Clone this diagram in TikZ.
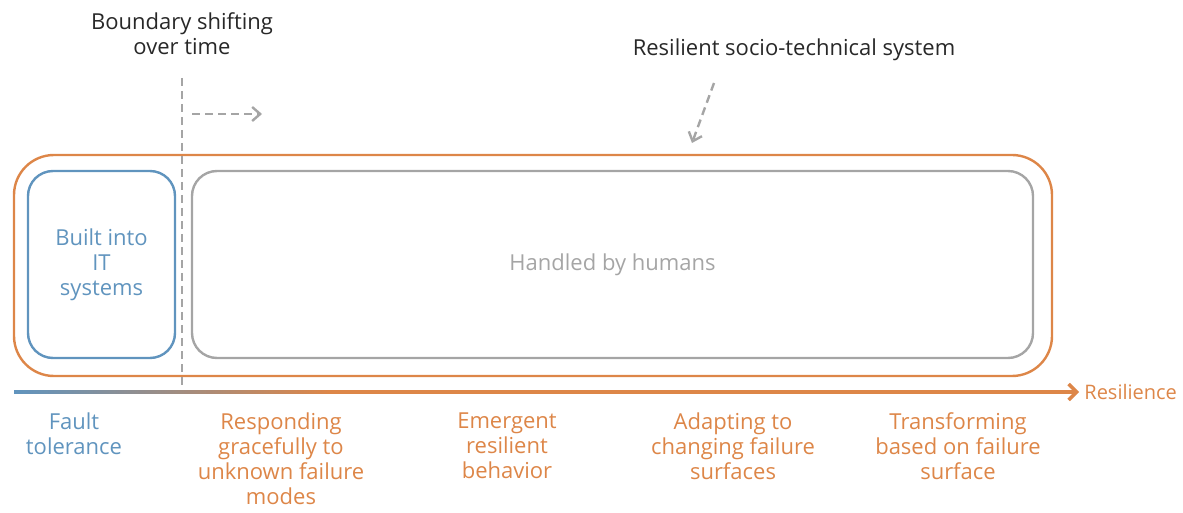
\documentclass[tikz,border=0pt]{standalone}
\usepackage{fontspec}
\setmainfont{Open Sans}
\usepackage{xcolor}
\usetikzlibrary{arrows.meta, positioning}
\definecolor{sysorange}{RGB}{221,134,72}
\definecolor{itblue}{RGB}{96,148,190}
\definecolor{humgray}{RGB}{165,165,165}
\definecolor{inkdark}{RGB}{40,40,40}

\begin{document}
\begin{tikzpicture}[x=0.5pt, y=-0.5pt,
  lbl/.style={align=center, font=\fontsize{11}{12.5}\selectfont, inner sep=0pt},
  box/.style={draw, rounded corners=12.5pt, line width=1.2pt,
              minimum height=93.5pt, lbl},
  dashline/.style={humgray, line width=1.2pt, dash pattern=on 4pt off 2.5pt},
  arr/.style={-{Straight Barb[length=4pt, width=7pt]}}
]
\useasboundingbox (0,0) rectangle (1183,513);

%% Outer system
\node[box, draw=sysorange, rounded corners=20pt, minimum width=519pt,
      minimum height=110.5pt] (sys) at (533,265.5) {};
\node[lbl, inkdark] (systitle) at (794,50) {Resilient socio-technical system};

%% Inner boxes
\node[box, draw=itblue, text=itblue, minimum width=73.5pt] (itsys) at (101.5,264.5)
  {Built into\\IT\\systems};
\node[box, draw=humgray, text=humgray, minimum width=420.5pt] (humans) at (612.5,264.5)
  {Handled by humans};

%% Boundary
\node[lbl, inkdark] (bndtitle) at (182,34) {Boundary shifting\\over time};
\coordinate (bndtop) at (182,78);
\coordinate (bndbot) at (182,385);
\draw[dashline] (bndtop) -- (bndbot);
\coordinate (shift0) at (192,114);
\coordinate (shift1) at (262,114);
\draw[dashline, arr] (shift0) -- (shift1);
\coordinate (sysptr) at (714,83);
\draw[dashline, arr] (sysptr) -- (692,143);

%% Axis
\coordinate (ax0) at (14,392);
\coordinate (ax1) at (330,392);
\coordinate (ax2) at (1079,392);
\node[lbl, sysorange, anchor=west, font=\fontsize{10}{12}\selectfont] (res) at (1084,392) {Resilience};
\shade[left color=itblue, middle color=humgray!90!black, right color=sysorange]
  ([yshift=-0.85pt]ax0) rectangle ([yshift=0.85pt]ax1);
\draw[sysorange, line width=1.7pt, -{Straight Barb[length=4pt, width=8pt]}] (ax1) -- (ax2);

%% Axis labels
\node[lbl, itblue, anchor=north] (fault) at (74,412) {Fault\\tolerance};
\node[lbl, sysorange, anchor=north] (respond) at (281,412)
  {Responding\\gracefully to\\unknown failure\\modes};
\node[lbl, sysorange, anchor=north] (emerge) at (507,412) {Emergent\\resilient\\behavior};
\node[lbl, sysorange, anchor=north] (adapt) at (733,412) {Adapting to\\changing failure\\surfaces};
\node[lbl, sysorange, anchor=north] (transform) at (958,412)
  {Transforming\\based on failure\\surface};

\end{tikzpicture}
\end{document}
